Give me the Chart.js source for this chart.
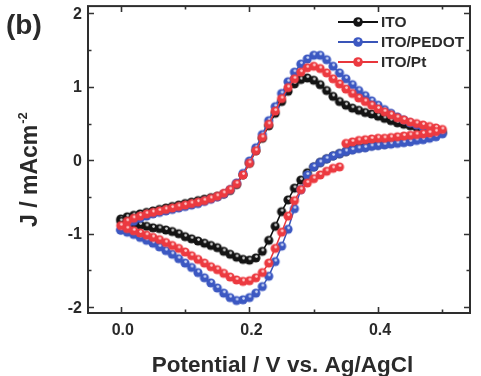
<!DOCTYPE html>
<html><head><meta charset="utf-8">
<script src="https://cdn.jsdelivr.net/npm/chart.js@4/dist/chart.umd.min.js"></script>
<style>html,body{margin:0;padding:0;background:#fff;}#wrap{width:481px;height:376px;}</style>
</head><body><div id="wrap"><canvas id="c" width="481" height="376"></canvas></div>
<script>
// ---- data (potential in V vs Ag/AgCl, current density J in mA cm^-2) ----
const potentialUp = [0.00,0.01,0.02,0.03,0.04,0.05,0.06,0.07,0.08,0.09,0.10,0.11,0.12,0.13,0.14,0.15,0.16,0.17,0.18,0.19,0.20,0.21,0.22,0.23,0.24,0.25,0.26,0.27,0.28,0.29,0.30,0.31,0.32,0.33,0.34,0.35,0.36,0.37,0.38,0.39,0.40,0.41,0.42,0.43,0.44,0.45,0.46,0.47,0.48,0.49,0.50];
const potentialDown = [0.50,0.49,0.48,0.47,0.46,0.45,0.44,0.43,0.42,0.41,0.40,0.39,0.38,0.37,0.36,0.35,0.34,0.33,0.32,0.31,0.30,0.29,0.28,0.27,0.26,0.25,0.24,0.23,0.22,0.21,0.20,0.19,0.18,0.17,0.16,0.15,0.14,0.13,0.12,0.11,0.10,0.09,0.08,0.07,0.06,0.05,0.04,0.03,0.02,0.01,0.00];

// ITO (black)
const itoUp = [-0.80,-0.77,-0.75,-0.73,-0.71,-0.69,-0.67,-0.65,-0.63,-0.61,-0.59,-0.57,-0.55,-0.53,-0.51,-0.49,-0.46,-0.41,-0.33,-0.20,-0.04,0.13,0.30,0.47,0.64,0.80,0.94,1.04,1.10,1.12,1.09,1.03,0.95,0.87,0.80,0.75,0.71,0.68,0.65,0.63,0.60,0.57,0.54,0.51,0.49,0.47,0.45,0.43,0.41,0.40,0.38];
const itoDown = [0.38,0.35,0.33,0.31,0.29,0.28,0.26,0.25,0.24,0.22,0.21,0.20,0.18,0.17,0.15,0.12,0.09,0.06,0.02,-0.03,-0.09,-0.17,-0.27,-0.38,-0.54,-0.70,-0.90,-1.09,-1.24,-1.33,-1.36,-1.35,-1.32,-1.28,-1.24,-1.19,-1.16,-1.13,-1.10,-1.07,-1.04,-1.00,-0.97,-0.95,-0.93,-0.92,-0.90,-0.88,-0.86,-0.85,-0.83];

// ITO/PEDOT (blue)
const pedotUp = [-0.95,-0.88,-0.83,-0.79,-0.76,-0.73,-0.71,-0.69,-0.67,-0.65,-0.63,-0.61,-0.59,-0.56,-0.53,-0.50,-0.46,-0.40,-0.31,-0.18,-0.01,0.17,0.35,0.54,0.73,0.91,1.07,1.20,1.31,1.38,1.43,1.43,1.37,1.28,1.19,1.11,1.03,0.95,0.88,0.81,0.75,0.69,0.64,0.59,0.55,0.51,0.48,0.45,0.42,0.39,0.36];
const pedotDown = [0.34,0.32,0.30,0.28,0.27,0.25,0.24,0.23,0.22,0.21,0.20,0.19,0.17,0.16,0.14,0.12,0.09,0.06,0.02,-0.03,-0.09,-0.20,-0.40,-0.66,-0.94,-1.17,-1.38,-1.58,-1.72,-1.81,-1.87,-1.90,-1.91,-1.87,-1.81,-1.74,-1.67,-1.60,-1.53,-1.46,-1.40,-1.34,-1.28,-1.23,-1.18,-1.13,-1.09,-1.05,-1.01,-0.98,-0.95];

// ITO/Pt (red): scan starts at 0.34 V going negative, full cycle, ends at 0.35 V
const ptStart = [-0.09,-0.11,-0.15,-0.20,-0.25,-0.31,-0.40,-0.55,-0.76,-0.98,-1.20,-1.40,-1.53,-1.60,-1.64,-1.65,-1.63,-1.59,-1.54,-1.49,-1.45,-1.40,-1.35,-1.30,-1.25,-1.20,-1.16,-1.12,-1.08,-1.05,-1.02,-0.99,-0.96,-0.93,-0.89];
const ptUp = [-0.89,-0.83,-0.79,-0.76,-0.73,-0.71,-0.69,-0.67,-0.65,-0.63,-0.61,-0.59,-0.57,-0.55,-0.52,-0.49,-0.45,-0.40,-0.32,-0.20,-0.04,0.13,0.31,0.49,0.67,0.84,0.99,1.11,1.20,1.26,1.28,1.25,1.19,1.11,1.04,0.97,0.91,0.85,0.80,0.75,0.70,0.66,0.62,0.58,0.55,0.52,0.50,0.48,0.46,0.44,0.42];
const ptEnd = [0.39,0.37,0.36,0.35,0.34,0.33,0.32,0.31,0.30,0.30,0.29,0.28,0.27,0.25,0.23];

const seriesLabels = ['ITO','ITO/PEDOT','ITO/Pt'];
const xTitle = 'Potential / V vs. Ag/AgCl';
const yTitleMain = 'J / mAcm';
const yTitleSup = '-2';
const panelLabel = '(b)';

// ---- build point lists ----
function pts(xs, ys){ return ys.map((y,i)=>({x: xs[i], y: y})); }
const itoData = pts(potentialUp, itoUp).concat(pts(potentialDown.slice(1), itoDown.slice(1)));
const pedotData = pts(potentialUp, pedotUp).concat(pts(potentialDown.slice(1), pedotDown.slice(1)));
const ptData = pts(potentialDown.slice(16), ptStart)
  .concat(pts(potentialUp.slice(1), ptUp.slice(1)))
  .concat(pts(potentialDown.slice(1,16), ptEnd));

function sphere(col, hi, r){
  const s = Math.ceil(r*2+2);
  const c = document.createElement('canvas'); c.width = s; c.height = s;
  const g = c.getContext('2d');
  g.beginPath(); g.arc(s/2, s/2, r, 0, Math.PI*2); g.fillStyle = col; g.fill();
  g.beginPath(); g.arc(s/2+0.6, s/2-1.4, r*0.3, 0, Math.PI*2); g.fillStyle = hi; g.fill();
  return c;
}
const colors = [
  {line:'#111111', fill:'#141414', hi:'#d8d8d8'},
  {line:'#3a55b8', fill:'#3c58c2', hi:'#cfdaf7'},
  {line:'#e8363c', fill:'#ec3a40', hi:'#ffd0d0'}
];
const markers = colors.map(c => sphere(c.fill, c.hi, 4.6));
const legendMarkers = colors.map(c => sphere(c.fill, c.hi, 4.8));

const TXT = '#2a2a2a';
const FONT = '"Liberation Sans", Arial, sans-serif';

const decor = {
  id: 'decor',
  afterDraw(chart){
    const ctx = chart.ctx, a = chart.chartArea;
    const xs = chart.scales.x, ys = chart.scales.y;
    ctx.save();
    ctx.strokeStyle = '#333'; ctx.lineWidth = 1.6;
    const xt = xs.ticks.map(t=>t.value), yt = ys.ticks.map(t=>t.value);
    const xStep = xt[1]-xt[0], yStep = yt[1]-yt[0];
    const xMinor = [], yMinor = [];
    xt.forEach(v=>{ [v-xStep/2, v+xStep/2].forEach(m=>{ if(m>xs.min && m<xs.max && !xMinor.some(q=>Math.abs(q-m)<1e-9)) xMinor.push(m); }); });
    yt.forEach(v=>{ [v-yStep/2, v+yStep/2].forEach(m=>{ if(m>ys.min && m<ys.max && !yMinor.some(q=>Math.abs(q-m)<1e-9)) yMinor.push(m); }); });
    ctx.beginPath();
    xt.forEach(v=>{ const p = Math.round(xs.getPixelForValue(v))+0.5; ctx.moveTo(p,a.bottom); ctx.lineTo(p,a.bottom-6); ctx.moveTo(p,a.top); ctx.lineTo(p,a.top+6); });
    xMinor.forEach(v=>{ const p = Math.round(xs.getPixelForValue(v))+0.5; ctx.moveTo(p,a.bottom); ctx.lineTo(p,a.bottom-3.5); ctx.moveTo(p,a.top); ctx.lineTo(p,a.top+3.5); });
    yt.forEach(v=>{ const p = Math.round(ys.getPixelForValue(v))+0.5; ctx.moveTo(a.left,p); ctx.lineTo(a.left+6,p); ctx.moveTo(a.right,p); ctx.lineTo(a.right-6,p); });
    yMinor.forEach(v=>{ const p = Math.round(ys.getPixelForValue(v))+0.5; ctx.moveTo(a.left,p); ctx.lineTo(a.left+3.5,p); ctx.moveTo(a.right,p); ctx.lineTo(a.right-3.5,p); });
    ctx.stroke();
    ctx.lineWidth = 2; ctx.strokeStyle = '#2e2e2e';
    ctx.strokeRect(a.left, a.top, a.right-a.left, a.bottom-a.top);

    // tick labels from the scales
    ctx.fillStyle = TXT; ctx.font = 'bold 16px ' + FONT;
    ctx.textAlign = 'right'; ctx.textBaseline = 'middle';
    ys.ticks.forEach(t=>{ ctx.fillText(String(t.value), a.left - 6, ys.getPixelForValue(t.value) + 1); });
    ctx.textAlign = 'center';
    xs.ticks.forEach(t=>{ ctx.fillText(Number(t.value).toFixed(1), xs.getPixelForValue(t.value) + 2, 331); });

    // legend
    const rows = [22, 42, 62];
    chart.data.datasets.forEach((d,i)=>{
      const y = rows[i];
      ctx.strokeStyle = colors[i].line; ctx.lineWidth = 2;
      ctx.beginPath(); ctx.moveTo(338,y); ctx.lineTo(378,y); ctx.stroke();
      const m = legendMarkers[i];
      ctx.drawImage(m, 358 - m.width/2, y - m.height/2);
      ctx.fillStyle = TXT; ctx.font = 'bold 15.5px ' + FONT;
      ctx.textAlign = 'left'; ctx.textBaseline = 'middle';
      ctx.fillText(d.label, 381, y+1);
    });

    // x title
    ctx.fillStyle = TXT;
    ctx.font = 'bold 22.5px ' + FONT; ctx.textAlign = 'center'; ctx.textBaseline = 'alphabetic';
    ctx.fillText(xTitle, 282.5, 371.5);
    // y title with superscript
    ctx.save();
    ctx.translate(37, 227); ctx.rotate(-Math.PI/2);
    ctx.textAlign = 'left';
    ctx.font = 'bold 23px ' + FONT;
    ctx.fillText(yTitleMain, 0, 0);
    const w = ctx.measureText(yTitleMain).width;
    ctx.font = 'bold 13px ' + FONT;
    ctx.fillText(yTitleSup, w + 1, -10);
    ctx.restore();
    ctx.font = 'bold 28px ' + FONT; ctx.textAlign = 'left';
    ctx.fillText(panelLabel, 6, 34);
    ctx.restore();
  }
};

const ds = (label, data, i, order) => ({
  label, data, order,
  showLine: true,
  borderColor: colors[i].line, borderWidth: 1.5,
  pointStyle: markers[i], pointRadius: 4.6, pointHoverRadius: 4.6,
  backgroundColor: colors[i].fill, tension: 0
});

new Chart(document.getElementById('c'), {
  type: 'scatter',
  data: { datasets: [
    ds(seriesLabels[0], itoData, 0, 3),
    ds(seriesLabels[1], pedotData, 1, 2),
    ds(seriesLabels[2], ptData, 2, 1)
  ]},
  options: {
    responsive: false, animation: false, devicePixelRatio: 1,
    layout: { padding: { left: 0, right: 11, top: 5, bottom: 0 } },
    plugins: { legend: { display: false }, tooltip: { enabled: false } },
    scales: {
      x: {
        type: 'linear', min: -0.051, max: 0.543,
        grid: { display: false, drawTicks: false }, border: { display: false },
        ticks: { stepSize: 0.2, includeBounds: false, display: false },
        afterFit: s => { s.height = 63; }
      },
      y: {
        type: 'linear', min: -2.08, max: 2.1,
        grid: { display: false, drawTicks: false }, border: { display: false },
        ticks: { stepSize: 1, includeBounds: false, display: false },
        afterFit: s => { s.width = 88; }
      }
    }
  },
  plugins: [decor]
});
</script></body></html>
